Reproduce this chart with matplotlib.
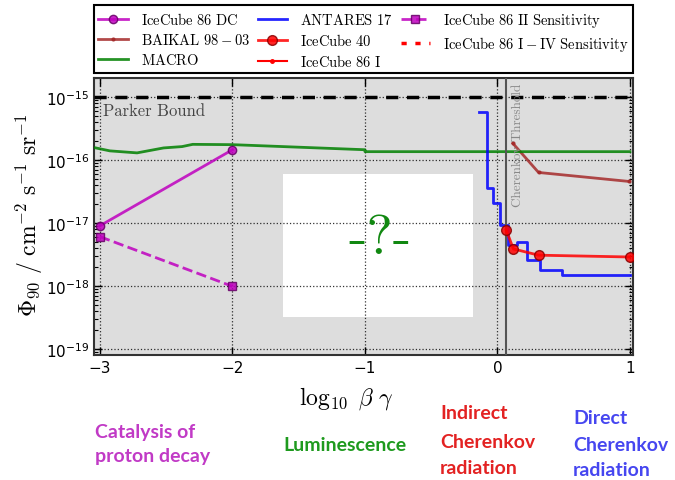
import numpy as np
import matplotlib
matplotlib.use("Agg")
import matplotlib.pyplot as plt
from matplotlib.patches import Rectangle

# monopole flux upper limits vs log10(beta*gamma)
macro_x = [-3.05, -2.925, -2.72, -2.52, -2.38, -2.30, -2.0, -1.0, -1.0, 1.0]
macro_y = [1.60e-16, 1.41e-16, 1.31e-16, 1.57e-16, 1.65e-16, 1.79e-16, 1.77e-16, 1.47e-16, 1.37e-16, 1.37e-16]

dc_x = [-3.0, -2.0]
dc_y = [9.1e-18, 1.47e-16]

sens2_x = [-3.0, -2.0]
sens2_y = [6.1e-18, 9.9e-19]

antares_x = [-0.136, -0.08, -0.03, 0.02, 0.083, 0.15, 0.226, 0.32, 0.486, 1.0]
antares_y = [5.9e-16, 3.6e-17, 2.1e-17, 9.3e-18, 4.5e-18, 5.0e-18, 2.6e-18, 1.8e-18, 1.5e-18, 1.5e-18]

ic40_x = [0.066, 0.12, 0.31, 1.0]
ic40_y = [7.8e-18, 3.9e-18, 3.1e-18, 2.9e-18]

baikal_x = [0.116, 0.31, 0.995]
baikal_y = [1.86e-16, 6.4e-17, 4.6e-17]

ic86_x = []
ic86_y = []
sens4_x = []
sens4_y = []

parker_bound = 1e-15
cherenkov_threshold = 0.066

W, H = 675, 481
fig = plt.figure(figsize=(W / 100, H / 100), dpi=100)
ax = fig.add_axes([94 / W, 1 - 356 / H, (633 - 94) / W, (356 - 79) / H])
ax.set_facecolor("#dddddd")


def tex(s):
    return r"$\mathrm{" + s.replace(" ", r"\ ") + "}$"


ax.plot(dc_x, dc_y, color="m", lw=2, marker="o", ms=6, mfc="m", mec="#660066",
        alpha=0.85, label=tex("IceCube 86 DC"), zorder=4)
ax.plot(baikal_x, baikal_y, color="brown", lw=2, marker=".", ms=4,
        alpha=0.85, label=tex("BAIKAL 98-03"), zorder=3)
ax.plot(macro_x, macro_y, color="green", lw=2, alpha=0.85, label=tex("MACRO"), zorder=3)
ax.plot(antares_x, antares_y, color="b", lw=2, drawstyle="steps-post",
        alpha=0.85, label=tex("ANTARES 17"), zorder=3)
ax.plot(ic40_x, ic40_y, color="r", lw=2, marker="o", ms=7, mfc="r", mec="#880000",
        alpha=0.85, label=tex("IceCube 40"), zorder=4)
ax.plot(ic86_x, ic86_y, color="r", lw=1.5, marker=".", ms=5, label=tex("IceCube 86 I"))
ax.plot(sens2_x, sens2_y, color="m", lw=2, ls="--", marker="s", ms=6, mfc="m", mec="#660066",
        alpha=0.85, label=tex("IceCube 86 II Sensitivity"), zorder=4)
ax.plot(sens4_x, sens4_y, color="r", lw=2.5, ls=(0, (1.5, 2.5)), label=tex("IceCube 86 I-IV Sensitivity"))

ax.axhline(parker_bound, color="k", lw=2.5, ls=(0, (3.5, 2.5)), zorder=3)
ax.text(-2.98, 6.3e-16, "Parker Bound", color="#444444", fontsize=12,
        fontfamily="cmr10", va="center", ha="left")

ax.axvline(cherenkov_threshold, color="#555555", lw=1.5, zorder=3)
ax.text(0.154, 1.7e-15, "Cherenkov Threshold", color="#888888", fontsize=9.5,
        fontfamily="cmr10", rotation=90, va="top", ha="center")

# blank box with a question mark in the luminescence region
ax.add_patch(Rectangle((-1.617, 3.26e-19), 1.434, 6.07e-17 - 3.26e-19,
                       facecolor="white", edgecolor="none", zorder=1))
ax.text(-0.885, 5.6e-18, "-?-", color="#118811", fontsize=40, fontfamily="cmr10",
        ha="center", va="center", zorder=3)

ax.set_yscale("log")
ax.set_xlim(-3.045, 1.023)
ax.set_ylim(8.03e-20, 2.03e-15)
ax.set_xticks([-3, -2, -1, 0, 1])
ax.grid(True, which="major", color="k", ls=":", lw=0.9, alpha=0.8)
ax.tick_params(which="both", direction="in", top=True, right=True, labelsize=11)
ax.tick_params(which="major", length=6, width=1)
ax.tick_params(which="minor", length=3, width=0.8)
for sp in ax.spines.values():
    sp.set_color("#333333")
    sp.set_linewidth(1.5)

ax.set_xlabel(r"$\log_{10}\ \beta\ \gamma$", fontsize=17, math_fontfamily="cm")
ax.xaxis.set_label_coords(0.469, -0.105)
ax.xaxis.label.set_va("top")
ax.set_ylabel(r"$\Phi_{90}\ /\ \mathrm{cm}^{-2}\ \mathrm{s}^{-1}\ \mathrm{sr}^{-1}$",
              fontsize=17, math_fontfamily="cm")
ax.yaxis.set_label_coords(-0.09, 0.51)

leg = ax.legend(ncol=3, loc="lower left", bbox_to_anchor=(0, 1.018, 1, 0.1), mode="expand",
                borderaxespad=0, fontsize=10.5, fancybox=False, edgecolor="k", framealpha=1,
                handlelength=2.0, handletextpad=0.9, labelspacing=0.34, borderpad=0.3)
leg.get_frame().set_linewidth(1.5)
for t in leg.get_texts():
    t.set_math_fontfamily("cm")

# regime labels under the axis
regimes = [
    (["Catalysis of", "proton decay"], 95, [438, 462], "#c13ac6"),
    (["Luminescence"], 283, [451], "#1e9a1e"),
    (["Indirect", "Cherenkov", "radiation"], 440, [419, 448, 474], "#e32222"),
    (["Direct", "Cherenkov", "radiation"], 573, [424, 451, 476], "#4646f0"),
]
for lines, x0, ys, col in regimes:
    for line, y0 in zip(lines, ys):
        fig.text(x0 / W, 1 - y0 / H, line, color=col, fontsize=14, fontfamily="Lato",
                 fontweight="bold", va="baseline", ha="left")

fig.savefig("out.png", dpi=100)
